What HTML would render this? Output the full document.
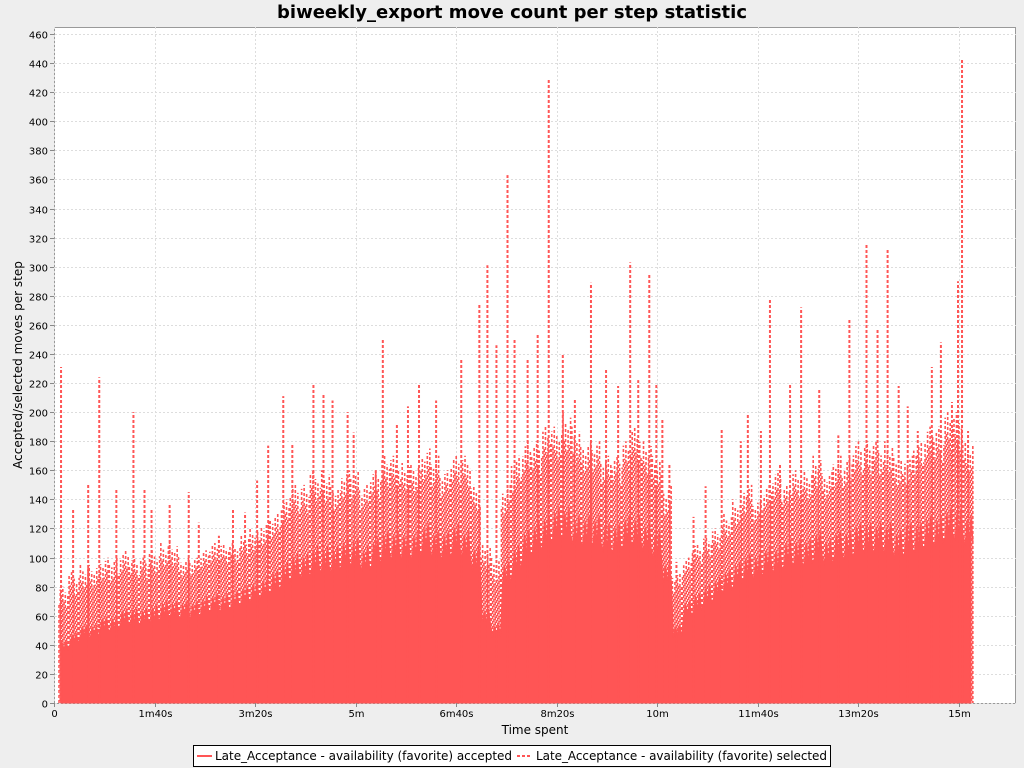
<!DOCTYPE html>
<html><head><meta charset="utf-8"><style>
body{margin:0;background:#eeeeee;font-family:"DejaVu Sans","Liberation Sans",sans-serif;}
svg{display:block}
text{font-family:"DejaVu Sans","Liberation Sans",sans-serif;}
</style></head><body>
<svg id="chart" width="1024" height="768" xmlns="http://www.w3.org/2000/svg">
<text x="512" y="18" text-anchor="middle" font-size="18" font-weight="bold" fill="#000">biweekly_export move count per step statistic</text>
<rect x="54.5" y="27.5" width="961" height="676" fill="#ffffff" stroke="#999" stroke-width="1"/>
<g id="grid"></g><g id="series"></g><g id="axes"></g>
<text transform="translate(22,365) rotate(-90)" text-anchor="middle" font-size="12">Accepted/selected moves per step</text>
<text x="535" y="734" text-anchor="middle" font-size="12">Time spent</text>
<g>
<rect x="193.5" y="745.5" width="637" height="21" fill="#fff" stroke="#000"/>
<line x1="197" y1="756" x2="212" y2="756" stroke="#ff5555" stroke-width="2"/>
<text x="215" y="760" font-size="12" textLength="297">Late_Acceptance - availability (favorite) accepted</text>
<line x1="517" y1="756" x2="532" y2="756" stroke="#ff5555" stroke-width="2" stroke-dasharray="3,2"/>
<text x="536" y="760" font-size="12" textLength="291">Late_Acceptance - availability (favorite) selected</text>
</g>
</svg>
<script>
const yTicks=[0,20,40,60,80,100,120,140,160,180,200,220,240,260,280,300,320,340,360,380,400,420,440,460];
const xTickSecs=[0,100,200,300,400,500,600,700,800,900];
const xTickLabels=["0","1m40s","3m20s","5m","6m40s","8m20s","10m","11m40s","13m20s","15m"];
// accepted envelope, sampled every 10 s from t=10 s
const accepted=[40,45,50,50,55,55,60,60,60,62,65,65,65,65,68,70,70,72,75,78,80,85,90,95,95,100,100,100,105,105,100,105,110,110,110,110,115,110,110,115,110,100,60,50,90,100,110,115,120,125,125,120,120,120,115,115,120,120,115,110,90,50,65,70,75,80,85,90,95,95,100,100,105,105,105,110,105,110,110,115,115,115,115,110,115,115,120,120,125,125,120];
// selected background level, every 10 s from t=10 s
const selected=[80,90,95,95,100,100,105,100,100,105,110,110,100,100,105,110,110,110,115,120,125,130,140,150,150,160,160,150,160,160,150,160,170,170,165,165,175,170,160,170,170,150,110,100,150,170,180,180,190,190,200,190,180,180,170,170,180,190,180,170,150,90,100,110,115,120,130,140,150,140,150,160,150,160,160,170,160,170,170,180,180,180,180,170,170,180,190,190,200,200,180];
const peakTimes=[7,19,34,45,62,79,90,97,115,134,144,164,178,190,202,213,228,237,258,268,277,292,298,320,327,341,352,363,380,405,423,431,440,451,458,471,481,492,506,518,534,549,561,573,581,592,599,605,612,619,636,648,664,683,690,703,712,722,732,743,761,780,791,808,819,829,840,849,859,873,882,893,899,903,909];
const peakValues=[231,134,151,224,147,200,147,133,137,145,124,115,134,131,153,177,211,178,220,212,208,200,186,160,251,192,204,220,208,237,274,301,246,363,250,236,254,429,240,209,289,230,218,303,222,295,220,196,165,97,128,149,189,180,198,187,278,165,220,272,216,184,264,315,257,312,218,204,187,231,248,207,290,443,187];

const NS="http://www.w3.org/2000/svg";
const X0=54,Y0=703;
const xs=t=>X0+t*905/900;
const ys=v=>Y0-v*669/460;
function mk(tag,attrs,parent){const e=document.createElementNS(NS,tag);for(const k in attrs)e.setAttribute(k,attrs[k]);parent.appendChild(e);return e;}
const grid=document.getElementById('grid'),axes=document.getElementById('axes'),ser=document.getElementById('series');
yTicks.forEach(v=>{
  const y=Math.round(ys(v))+0.5;
  const g=mk('line',{x1:55,x2:1016,y1:y,y2:y,stroke:'#dddddd','stroke-dasharray':'2,2'},grid);
  
  
  mk('line',{x1:50,x2:54,y1:y,y2:y,stroke:'#888'},axes);
  const t=mk('text',{x:48,y:y+4,'text-anchor':'end','font-size':10},axes);
  t.textContent=v;
  
  
});
xTickSecs.forEach((s,i)=>{
  const x=Math.round(xs(s))+0.5;
  const g=mk('line',{x1:x,x2:x,y1:27,y2:703,stroke:'#dddddd','stroke-dasharray':'2,2'},grid);
  
  
  mk('line',{x1:x,x2:x,y1:703,y2:707,stroke:'#888'},axes);
  const t=mk('text',{x:x,y:717,'text-anchor':'middle','font-size':10},axes);
  t.textContent=xTickLabels[i];
  
  
});
const col='#ff5555';
const factors=[0.7,0.95,0.8,1,0.75,0.9,0.65,0.85];
const offsets=[0,1,2,3,4];
selected.forEach((v,i)=>{
  const t=10*(i+1);
  const base=accepted[i];
  for(let k=0;k<8;k++){
    const x=xs(t-5+k*1.25);
    const top=base+(v-base)*factors[(k+i)%8];
    const l=mk('line',{x1:x,x2:x,y1:Y0,y2:ys(top),stroke:col,'stroke-width':1.6,'stroke-dasharray':'3,2','stroke-dashoffset':offsets[(k*3+i)%5]},ser);
    
    
  }
});
let dA=`M${xs(7)},${Y0}L${xs(7)},${ys(accepted[0])}`;
accepted.forEach((v,i)=>{const t=10*(i+1);dA+=`L${xs(t-4)},${ys(v*0.9)}L${xs(t-2)},${ys(v*1.05)}L${xs(t)},${ys(v*0.93)}L${xs(t+2)},${ys(v*1.08)}L${xs(t+4)},${ys(v*0.92)}`;});
dA+=`L${xs(912)},${ys(accepted[accepted.length-1])}L${xs(912)},${Y0}Z`;
const pa=mk('path',{d:dA,fill:col,stroke:col,'stroke-width':1},ser);


let dP='';
peakTimes.forEach((t,i)=>{const x=xs(t);dP+=`M${x},${Y0}L${x},${ys(peakValues[i])}`;});
const pp=mk('path',{d:dP,stroke:col,'stroke-width':2,'stroke-dasharray':'3,2',fill:'none'},ser);


</script>
</body></html>
